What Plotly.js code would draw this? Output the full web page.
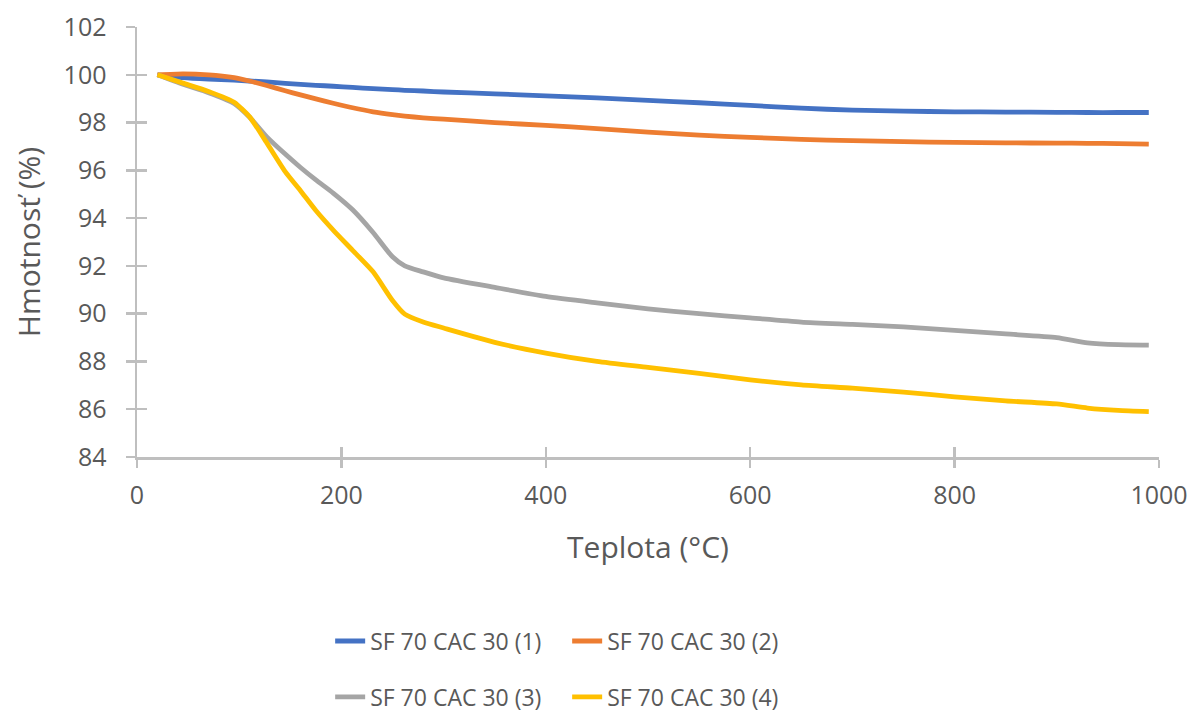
<!DOCTYPE html>
<html><head><meta charset="utf-8">
<script src="https://cdn.plot.ly/plotly-3.0.1.min.js"></script>
<style>html,body{margin:0;padding:0;background:#fff}#chart{width:1194px;height:713px}</style>
</head><body><div id="chart"></div>
<script>
const temperature = [20, 45, 70, 95, 110, 127, 145, 160, 175, 192, 211, 231, 250, 262, 280, 300, 350, 400, 450, 500, 550, 600, 650, 700, 750, 800, 850, 900, 930, 960, 990];
const series1 = [100, 99.88, 99.82, 99.78, 99.74, 99.7, 99.64, 99.6, 99.56, 99.52, 99.47, 99.42, 99.38, 99.35, 99.32, 99.28, 99.2, 99.12, 99.03, 98.93, 98.83, 98.72, 98.6, 98.52, 98.48, 98.45, 98.44, 98.43, 98.42, 98.42, 98.42];
const series2 = [100, 100.04, 100.0, 99.88, 99.74, 99.55, 99.33, 99.16, 98.99, 98.81, 98.62, 98.45, 98.33, 98.27, 98.2, 98.14, 98.0, 97.88, 97.75, 97.6, 97.47, 97.38, 97.3, 97.24, 97.2, 97.17, 97.15, 97.14, 97.13, 97.12, 97.1];
const series3 = [100, 99.6, 99.25, 98.8, 98.23, 97.4, 96.68, 96.12, 95.6, 95.05, 94.35, 93.4, 92.38, 92.0, 91.75, 91.5, 91.1, 90.72, 90.45, 90.2, 90.0, 89.82, 89.65, 89.55, 89.45, 89.3, 89.15, 89.0, 88.78, 88.7, 88.68];
const series4 = [100, 99.65, 99.3, 98.85, 98.25, 97.15, 95.95, 95.15, 94.32, 93.5, 92.65, 91.75, 90.55, 89.98, 89.65, 89.4, 88.8, 88.35, 88.0, 87.75, 87.5, 87.23, 87.02, 86.88, 86.72, 86.52, 86.35, 86.22, 86.05, 85.95, 85.9];
const seriesNames = ["SF 70 CAC 30 (1)", "SF 70 CAC 30 (2)", "SF 70 CAC 30 (3)", "SF 70 CAC 30 (4)"];
const xTicks = [0, 200, 400, 600, 800, 1000];
const yTicks = [84, 86, 88, 90, 92, 94, 96, 98, 100, 102];

const colors = ["#4472C4", "#ED7D31", "#A5A5A5", "#FFC000"];
const allY = [series1, series2, series3, series4];
const legends = ["legend", "legend", "legend2", "legend2"];
const FONT = "Open Sans, sans-serif";
const TXT = "#595959";

const traces = allY.map((y, i) => ({
  x: temperature, y: y, name: seriesNames[i], type: "scatter", mode: "lines",
  line: {color: colors[i], width: 4.8, shape: "spline", smoothing: 0.6},
  legend: legends[i], hoverinfo: "skip"
}));
// invisible helper trace so the overlay axes (inside tick halves) are drawn
traces.push({x: temperature, y: series1, xaxis: "x2", yaxis: "y2", mode: "lines",
  line: {width: 0, color: "rgba(0,0,0,0)"}, showlegend: false, hoverinfo: "skip"});

const axisCommon = {showgrid: false, zeroline: false, showline: true, linecolor: "#BFBFBF", linewidth: 2.5,
  tickcolor: "#BFBFBF", tickwidth: 2.5, tickfont: {family: FONT, size: 25, color: TXT}};

const layout = {
  width: 1194, height: 713,
  margin: {l: 137, r: 35, t: 27, b: 256, autoexpand: false},
  paper_bgcolor: "#fff", plot_bgcolor: "#fff",
  showlegend: true,
  xaxis: Object.assign({}, axisCommon, {range: [0, 1000], tickvals: xTicks, ticks: "outside", ticklen: 8,
    ticklabelstandoff: 6, automargin: false,
    title: {text: "Teplota (°C)", font: {family: FONT, size: 30, color: TXT}, standoff: 28}}),
  yaxis: Object.assign({}, axisCommon, {range: [84, 102], tickvals: yTicks, ticks: "outside", ticklen: 9,
    ticklabelstandoff: 14, automargin: false,
    title: {text: "Hmotnosť (%)", font: {family: FONT, size: 30, color: TXT}, standoff: 14}}),
  xaxis2: {overlaying: "x", range: [0, 1000], tickvals: xTicks, ticks: "inside", ticklen: 10, tickcolor: "#BFBFBF", tickwidth: 2.5,
    showticklabels: false, showgrid: false, zeroline: false, showline: false, side: "bottom"},
  yaxis2: {overlaying: "y", range: [84, 102], tickvals: yTicks, ticks: "inside", ticklen: 10, tickcolor: "#BFBFBF", tickwidth: 2.5,
    showticklabels: false, showgrid: false, zeroline: false, showline: false, side: "left"},
  legend: {orientation: "h", x: 0.189, xanchor: "left", y: -0.428, yanchor: "middle",
    entrywidth: 192, entrywidthmode: "pixels", font: {family: FONT, size: 23, color: TXT}, bgcolor: "rgba(0,0,0,0)"},
  legend2: {orientation: "h", x: 0.189, xanchor: "left", y: -0.558, yanchor: "middle",
    entrywidth: 192, entrywidthmode: "pixels", font: {family: FONT, size: 23, color: TXT}, bgcolor: "rgba(0,0,0,0)"}
};

Plotly.newPlot("chart", traces, layout, {displayModeBar: false, staticPlot: true});
</script></body></html>
